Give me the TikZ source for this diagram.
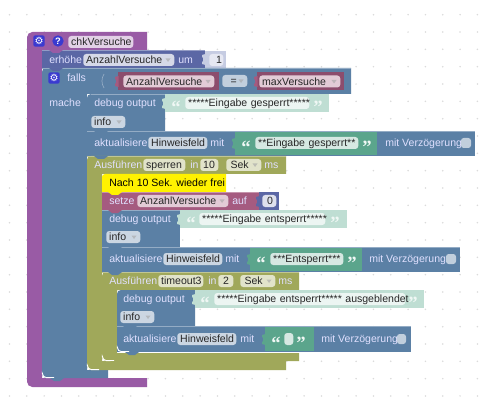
\documentclass[tikz,border=0pt]{standalone}
\usepackage{fontspec}
\setmainfont{Liberation Sans}
\newfontfamily\quotefont{Liberation Serif}
\newfontfamily\iconfont{DejaVu Sans}
\usetikzlibrary{calc}
\definecolor{procpurple}{HTML}{995BA5}
\definecolor{ctrlblue}{HTML}{5B80A5}
\definecolor{mathblue}{HTML}{5B67A5}
\definecolor{varpink}{HTML}{A55B80}
\definecolor{timerolive}{HTML}{A0A85A}
\definecolor{strgreen}{HTML}{5BA58C}
\definecolor{shadowgreen}{HTML}{BFDED3}
\definecolor{shadowblue}{HTML}{C6CCE2}
\definecolor{iconblue}{HTML}{3A3AD0}

\tikzset{
  labeltext/.style={anchor=west, inner sep=0pt, text height=6.4pt, text depth=1pt,
    text=white!88!blue, font=\fontsize{7.9}{9.5}\selectfont},
  pillbase/.style={anchor=west, rounded corners=2.2pt, inner xsep=2.2pt, inner ysep=0pt,
    minimum height=9pt, text height=6.6pt, text depth=1pt, text=black!85,
    font=\fontsize{7.9}{9.5}\selectfont},
  quotemark/.style={anchor=center, inner sep=0pt, text=white!75!shadowgreen, font=\quotefont\bfseries\fontsize{14}{14}\selectfont},
  checkbox/.style={fill=white!62!ctrlblue, rounded corners=2pt},
  ddtip/.style={fill=black!35, opacity=0.6},
  grid dot/.style={fill=black!14},
  edgelight/.style={draw=white!35!#1, line width=0.5pt},
  cornerlight/.style={draw=white, line width=0.7pt, rounded corners=3pt},
}

% field with text, from x=#3 to x=#4 on row y=#5
\newcommand{\fieldpill}[6]{%
  \pgfmathsetlengthmacro{\pillwidth}{(#4-#3)*0.75pt-4.4pt}%
  \node[pillbase, fill=#2, text width=\pillwidth] (#1) at (#3,#5) {\mbox{#6}};}
% the small arrow of a dropdown field
\newcommand{\ddarrow}[1]{%
  \fill[ddtip] ($(#1.east)+(-9,-1.5)$) -- ++(5,0) -- ++(-2.5,3.5) -- cycle;}
% tab of an input block, pointing left from x=#1
\newcommand{\inputtab}[3]{%
  \fill[#3] (#1+0.5,#2-5) -- (#1-3,#2-4) -- (#1-3,#2-2) -- (#1-2,#2-1) -- (#1-2,#2+2)
    -- (#1-3,#2+3) -- (#1-3,#2+5) -- (#1+0.5,#2+6) -- cycle;}
% notch of a statement block hanging over the next one
\newcommand{\blocknotch}[3]{%
  \fill[#3] (#1,#2) -- (#1+4,#2+3) -- (#1+10,#2+3) -- (#1+14,#2) -- cycle;}
% one plain row of a block
\newcommand{\blockrow}[5]{%
  \fill[#1] (#2,#3) rectangle (#4,#5);
  \draw[edgelight=#1] (#2,#3+0.3) -- (#4,#3+0.3);}
% white corner at the lower left of a block
\newcommand{\lowcorner}[3]{%
  \draw[cornerlight] (#1+0.4,#2-4) -- (#1+0.4,#2-0.4) -- (#1+#3,#2-0.4);}

\begin{document}
\begin{tikzpicture}[x=0.75pt, y=-0.75pt]
  \useasboundingbox (0,0) rectangle (488,413);
  \fill[white] (0,0) rectangle (488,413);

  % Workspace dots
  \foreach \col in {0,...,27} {
    \foreach \row in {0,...,22} {
      \fill[grid dot] ({9.5+17.33*\col},{14.7+17.33*\row}) circle (0.65pt);
    }
  }

  % Procedure
  \fill[procpurple] (147,32) [rounded corners=4pt] -- (27,32) -- (27,387) [sharp corners] -- (147,387)
    -- (147,378) -- (42,378) -- (42,50) -- (147,50) -- cycle;
  \node[anchor=center, fill=iconblue, rounded corners=1.5pt, minimum size=8.5pt, inner sep=0pt,
    text=white, font=\iconfont\fontsize{7.5}{8}\selectfont] (procgear) at (39,41) {⚙};
  \node[anchor=center, fill=iconblue, circle, minimum size=8.5pt, inner sep=0pt,
    text=white, font=\bfseries\fontsize{7}{8}\selectfont] (prochelp) at (58,41) {?};
  \fieldpill{procname}{white!72!procpurple}{68}{133}{42}{chkVersuche}

  % erhoehe
  \blockrow{mathblue}{42}{50}{205}{68}
  \fill[shadowblue] (205,51) rectangle (226,68);
  \inputtab{205}{59}{shadowblue}
  \blocknotch{49}{50}{procpurple}
  \node[labeltext] (incr) at (49,60) {erhöhe};
  \fieldpill{incrvar}{white!75!mathblue}{83}{174}{60}{AnzahlVersuche}
  \ddarrow{incrvar}
  \node[labeltext] (incrum) at (178,60) {um};
  \fieldpill{incrval}{white!85!mathblue}{209}{223}{60}{\hspace{3pt}1}

  % falls / mache
  \fill[ctrlblue] (351,68) [rounded corners=3pt] -- (42,68) -- (42,378) [sharp corners] -- (108,378)
    -- (108,370) -- (87,370) -- (87,94) -- (351,94) -- cycle;
  \draw[edgelight=ctrlblue] (42,68.3) -- (351,68.3);
  \blocknotch{49}{68}{mathblue}
  \node[anchor=center, fill=iconblue, rounded corners=1.5pt, minimum size=8.5pt, inner sep=0pt,
    text=white, font=\iconfont\fontsize{7.5}{8}\selectfont] (ifgear) at (54,78) {⚙};
  \node[labeltext] (iflabel) at (67,78) {falls};
  \node[labeltext] (dolabel) at (49,103) {mache};
  \draw[edgelight=ctrlblue] (104,74) to[bend right=30] (104,88);
  \lowcorner{42}{378}{12}
  \blocknotch{50}{378}{ctrlblue}

  % Condition
  \fill[varpink!85!black] (118,72) rectangle (219,90);
  \inputtab{118}{81}{varpink}
  \fieldpill{condvar}{white!68!varpink}{123}{214}{81.5}{AnzahlVersuche}
  \ddarrow{condvar}
  \fieldpill{condop}{white!62!ctrlblue}{222}{247}{81}{\hspace{4pt}=}
  \ddarrow{condop}
  \fill[varpink!85!black] (257,72) rectangle (344,90);
  \inputtab{257}{81}{varpink}
  \fieldpill{condmax}{white!68!varpink}{259}{340}{81.5}{maxVersuche}
  \ddarrow{condmax}

  % debug 1
  \fill[ctrlblue] (165,94) -- (91,94) to[out=180,in=90] (87,98) -- (87,131) -- (165,131) -- cycle;
  \draw[edgelight=ctrlblue] (91,94.3) -- (165,94.3);
  \fill[shadowgreen] (165,94) rectangle (329,112);
  \inputtab{165}{103}{shadowgreen}
  \node[labeltext] (debugone) at (94,103) {debug output};
  \node[quotemark] (qaone) at (176,107) {“};
  \fieldpill{debugonetxt}{white!70!shadowgreen}{185}{309}{103}{*****Eingabe gesperrt*****}
  \node[quotemark] (qbone) at (318,107) {”};
  \fieldpill{infoone}{white!68!ctrlblue}{91}{125}{122}{info}
  \ddarrow{infoone}

  % aktualisiere 1
  \blockrow{ctrlblue}{87}{131}{475}{156}
  \blocknotch{94}{131}{ctrlblue}
  \node[labeltext] (updone) at (94,143) {aktualisiere};
  \fieldpill{fieldone}{white!68!ctrlblue}{148}{207}{143}{Hinweisfeld}
  \node[labeltext] (mitone) at (210,143) {mit};
  \fill[strgreen] (235,132) rectangle (377,155);
  \inputtab{235}{143}{strgreen}
  \node[quotemark] (qatwo) at (246,147) {“};
  \fieldpill{msgone}{white!75!strgreen}{255}{358}{143}{**Eingabe gesperrt**}
  \node[quotemark] (qbtwo) at (367,147) {”};
  \node[labeltext] (delayone) at (385,143) {mit Verzögerung};
  \fill[checkbox] (461,138) rectangle (471,148);

  % Ausfuehren sperren
  \fill[timerolive] (286,156) [rounded corners=3pt] -- (87,156) -- (87,370) [sharp corners] -- (286,370)
    -- (286,361) -- (102,361) -- (102,174) -- (286,174) -- cycle;
  \draw[edgelight=timerolive] (87,156.3) -- (286,156.3);
  \blocknotch{94}{156}{ctrlblue}
  \lowcorner{87}{370}{12}
  \node[labeltext] (timerone) at (94,165) {Ausführen};
  \fieldpill{timeronename}{white!68!timerolive}{143}{185}{165}{sperren}
  \node[labeltext] (timeronein) at (190,165) {in};
  \fieldpill{timeroneval}{white!68!timerolive}{200}{218}{165}{10}
  \fieldpill{timeroneunit}{white!68!timerolive}{226}{261}{165}{\hspace{1pt}Sek}
  \ddarrow{timeroneunit}
  \node[labeltext] (timeronems) at (264,165) {ms};

  % Comment
  \fill[yellow] (226,174) -- (105,174) to[out=180,in=90] (102,177) -- (102,192) -- (226,192) -- cycle;
  \node[labeltext, text=black] (note) at (109,183) {Nach 10 Sek. wieder frei};

  % setze
  \blockrow{varpink}{102}{192}{259}{210}
  \fill[mathblue] (259,192) rectangle (279,210);
  \inputtab{259}{201}{mathblue}
  \blocknotch{108}{192}{yellow}
  \node[labeltext] (setvar) at (109,201) {setze};
  \fieldpill{setvarname}{white!68!varpink}{137}{228}{201}{AnzahlVersuche}
  \ddarrow{setvarname}
  \node[labeltext] (setvaron) at (232,201) {auf};
  \fieldpill{setvarval}{white!80!mathblue}{262}{276}{201}{\hspace{1.5pt}0}

  % debug 2
  \blockrow{ctrlblue}{102}{210}{180}{247}
  \blocknotch{108}{210}{varpink}
  \fill[shadowgreen] (180,210) rectangle (347,228);
  \inputtab{180}{219}{shadowgreen}
  \node[labeltext] (debugtwo) at (109,219) {debug output};
  \node[quotemark] (qathree) at (191,223) {“};
  \fieldpill{debugtwotxt}{white!70!shadowgreen}{199}{325}{219}{*****Eingabe entsperrt*****}
  \node[quotemark] (qbthree) at (335,223) {”};
  \fieldpill{infotwo}{white!68!ctrlblue}{106}{140}{237}{info}
  \ddarrow{infotwo}

  % aktualisiere 2
  \blockrow{ctrlblue}{102}{247}{460}{272}
  \blocknotch{108}{247}{ctrlblue}
  \node[labeltext] (updtwo) at (109,259) {aktualisiere};
  \fieldpill{fieldtwo}{white!68!ctrlblue}{163}{222}{259}{Hinweisfeld}
  \node[labeltext] (mittwo) at (225,259) {mit};
  \fill[strgreen] (250,248) rectangle (362,271);
  \inputtab{250}{259}{strgreen}
  \node[quotemark] (qafour) at (261,263) {“};
  \fieldpill{msgtwo}{white!75!strgreen}{270}{343}{259}{***Entsperrt***}
  \node[quotemark] (qbfour) at (352,263) {”};
  \node[labeltext] (delaytwo) at (369,259) {mit Verzögerung};
  \fill[checkbox] (446,254) rectangle (456,264);

  % Ausfuehren timeout3
  \fill[timerolive] (299,272) [rounded corners=3pt] -- (102,272) -- (102,361) [sharp corners] -- (299,361)
    -- (299,353) -- (117,353) -- (117,290) -- (299,290) -- cycle;
  \draw[edgelight=timerolive] (102,272.3) -- (299,272.3);
  \blocknotch{108}{272}{ctrlblue}
  \lowcorner{102}{361}{12}
  \blocknotch{110}{361}{timerolive}
  \node[labeltext] (timertwo) at (109,281) {Ausführen};
  \fieldpill{timertwoname}{white!68!timerolive}{158}{203}{281}{timeout3}
  \node[labeltext] (timertwoin) at (208,281) {in};
  \fieldpill{timertwoval}{white!68!timerolive}{218}{233}{281}{\hspace{1.5pt}2}
  \fieldpill{timertwounit}{white!68!timerolive}{240}{275}{281}{\hspace{1pt}Sek}
  \ddarrow{timertwounit}
  \node[labeltext] (timertwoms) at (278,281) {ms};

  % debug 3
  \fill[ctrlblue] (195,290) -- (121,290) to[out=180,in=90] (117,294) -- (117,326) -- (195,326) -- cycle;
  \fill[shadowgreen] (195,290) rectangle (424,308);
  \inputtab{195}{299}{shadowgreen}
  \node[labeltext] (debugthree) at (123,299) {debug output};
  \node[quotemark] (qafive) at (205,303) {“};
  \fieldpill{debugthreetxt}{white!70!shadowgreen}{214}{405}{299}{*****Eingabe entsperrt***** ausgeblendet}
  \node[quotemark] (qbfive) at (413,303) {”};
  \fieldpill{infothree}{white!68!ctrlblue}{120}{154}{317}{info}
  \ddarrow{infothree}

  % aktualisiere 3
  \blockrow{ctrlblue}{117}{326}{411}{352}
  \blocknotch{123}{326}{ctrlblue}
  \lowcorner{117}{352}{12}
  \blocknotch{125}{352}{ctrlblue}
  \node[labeltext] (updthree) at (123,339) {aktualisiere};
  \fieldpill{fieldthree}{white!68!ctrlblue}{177}{236}{339}{Hinweisfeld}
  \node[labeltext] (mitthree) at (240,339) {mit};
  \fill[strgreen] (265,327) rectangle (314,351);
  \inputtab{265}{339}{strgreen}
  \node[quotemark] (qasix) at (276,343) {“};
  \fieldpill{msgthree}{white!75!strgreen}{284}{293}{339}{}
  \node[quotemark] (qbsix) at (301,343) {”};
  \node[labeltext] (delaythree) at (321,339) {mit Verzögerung};
  \fill[checkbox] (397,334) rectangle (406,344);
\end{tikzpicture}
\end{document}
